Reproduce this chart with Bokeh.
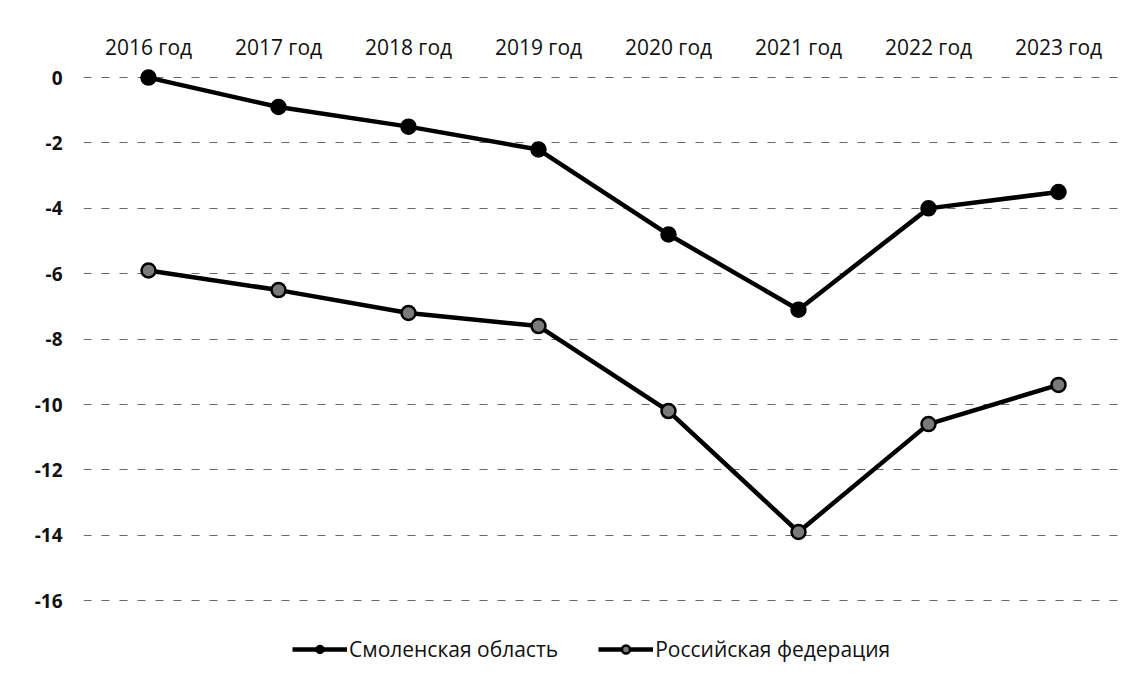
from bokeh.plotting import figure
from bokeh.models import Range1d, FixedTicker, Legend, LegendItem
from bokeh.embed import file_html
from bokeh.resources import INLINE

years = ["2016 год", "2017 год", "2018 год", "2019 год",
         "2020 год", "2021 год", "2022 год", "2023 год"]
smolensk = [0.0, -0.9, -1.5, -2.2, -4.8, -7.1, -4.0, -3.5]
russia = [-5.9, -6.5, -7.2, -7.6, -10.2, -13.9, -10.6, -9.4]
y_ticks = [0, -2, -4, -6, -8, -10, -12, -14, -16]
y_tick_labels = ["0", "-2", "-4", "-6", "-8", "-10", "-12", "-14", "-16"]
series_names = ["Смоленская область", "Российская федерация"]

FONT = "Open Sans"

p = figure(width=1139, height=679, x_range=years,
           y_range=Range1d(-18.29, 0.34),
           x_axis_location="above",
           output_backend="svg", toolbar_location=None,
           min_border_left=83, min_border_right=16,
           min_border_top=66, min_border_bottom=4)
p.outline_line_color = None
p.background_fill_color = "white"
p.border_fill_color = "white"

# axes
xa = p.xaxis[0]
xa.axis_line_color = None
xa.major_tick_line_color = None
xa.minor_tick_line_color = None
xa.major_tick_out = 0
xa.major_tick_in = 0
xa.major_label_standoff = 6
xa.major_label_text_font = FONT
xa.major_label_text_font_size = "21px"
xa.major_label_text_color = "#111111"

ya = p.yaxis[0]
ya.ticker = FixedTicker(ticks=y_ticks)
ya.major_label_overrides = {t: lab for t, lab in zip(y_ticks, y_tick_labels)}
ya.axis_line_color = None
ya.major_tick_line_color = None
ya.minor_tick_line_color = None
ya.major_tick_out = 0
ya.major_tick_in = 0
ya.major_label_standoff = 21
ya.major_label_text_font = FONT
ya.major_label_text_font_size = "19px"
ya.major_label_text_font_style = "bold"
ya.major_label_text_color = "#111111"

p.xgrid.grid_line_color = None
p.ygrid.ticker = FixedTicker(ticks=y_ticks)
p.ygrid.grid_line_color = "#444444"
p.ygrid.grid_line_width = 1.2
p.ygrid.grid_line_dash = "8 10"
p.ygrid.grid_line_alpha = 0.8

# series
l1 = p.line(years, smolensk, line_color="black", line_width=4.5)
m1 = p.scatter(years, smolensk, size=15, marker="circle",
               fill_color="black", line_color="black", line_width=1.5)
l2 = p.line(years, russia, line_color="black", line_width=4.5)
m2 = p.scatter(years, russia, size=14, marker="circle",
               fill_color="#7a7a7a", line_color="black", line_width=2.5)

legend = Legend(items=[LegendItem(label=series_names[0], renderers=[l1, m1]),
                       LegendItem(label=series_names[1], renderers=[l2, m2])],
                orientation="horizontal", location=(209, 12),
                label_text_font=FONT, label_text_font_size="21px",
                label_text_color="#111111",
                glyph_width=55, glyph_height=20, label_standoff=2,
                spacing=40, padding=0, margin=0,
                border_line_color=None, background_fill_alpha=0)
p.add_layout(legend, "center")

open("out.html", "w").write(file_html(p, INLINE))
